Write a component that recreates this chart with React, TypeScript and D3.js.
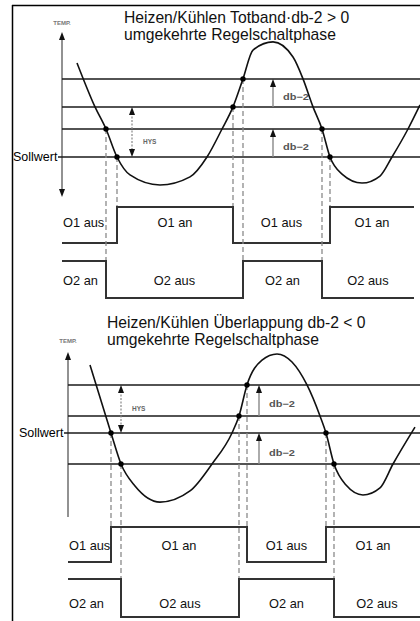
import * as d3 from "d3";
import { useEffect, useRef } from "react";

const width = 420;
const height = 621;

// Panel 1: Heizen/Kühlen Totband, db-2 > 0
const titleLines1 = ["Heizen/Kühlen Totband·db-2 > 0", "umgekehrte Regelschaltphase"];
const hys1 = 1.79;
const db1 = 1.0;
const tempTime1 = [1.5, 3.3, 4.4, 5.5, 6.8, 9.8, 12.8, 14.5, 16.0, 17.1, 18.1, 19.1, 21.1, 23.1, 24.1, 25.1, 26.0, 26.8, 28.0, 30.0, 31.8, 33.0, 34.6, 35.8];
const tempValue1 = [3.36, 1.79, 1.0, 0, -0.64, -1.0, -0.71, 0, 1.0, 1.79, 2.79, 3.82, 4.11, 3.57, 2.79, 1.79, 1.0, 0, -0.61, -0.93, -0.68, 0, 1.0, 1.86];
const o1Switch1 = [5.5, 17.1, 26.8];
const o1Dot1 = [0, 1.79, 0];
const o2Switch1 = [4.4, 18.1, 26.0];
const o2Dot1 = [1.0, 2.79, 1.0];

// Panel 2: Heizen/Kühlen Überlappung, db-2 < 0
const titleLines2 = ["Heizen/Kühlen Überlappung db-2 < 0", "umgekehrte Regelschaltphase"];
const hys2 = 1.55;
const db2 = -1.0;
const tempTime2 = [2.2, 4.3, 5.3, 6.7, 9.2, 12.2, 14.4, 16.4, 17.1, 17.9, 19.4, 20.9, 22.4, 23.9, 25.2, 25.8, 26.6, 27.8, 29.5, 31.2, 32.5, 34.7];
const tempValue2 = [2.19, 0, -1.0, -1.71, -2.23, -1.87, -1.0, 0, 0.55, 1.55, 2.35, 2.55, 2.29, 1.55, 0.55, 0, -1.0, -1.68, -2.0, -1.77, -1.0, 0.19];
const o1Switch2 = [4.3, 17.9, 25.8];
const o1Dot2 = [0, 1.55, 0];
const o2Switch2 = [5.3, 17.1, 26.6];
const o2Dot2 = [-1.0, 0.55, -1.0];

const o1Labels = ["O1 aus", "O1 an", "O1 aus", "O1 an"];
const o2Labels = ["O2 an", "O2 aus", "O2 an", "O2 aus"];
const signalEnd = 35.2;

const font = "'Liberation Sans', Arial, sans-serif";

const panels = [
  {
    title: titleLines1, hys: hys1, db: db1, time: tempTime1, value: tempValue1,
    o1: o1Switch1, o1Dot: o1Dot1, o2: o2Switch1, o2Dot: o2Dot1,
    axisX: 62, yZero: 157, pxPerTemp: 28, tempTop: 4.46, tempBottom: -1.43,
    titleX: 124, titleY: [23, 40], sollX: 13, tempLabelY: 25,
    o1Y: [243, 207, 227], o2Y: [298, 261, 285],
    hysT: 7.0, hysLabelV: 0.55, dbT: 21.1, downArrow: true,
  },
  {
    title: titleLines2, hys: hys2, db: db2, time: tempTime2, value: tempValue2,
    o1: o1Switch2, o1Dot: o1Dot2, o2: o2Switch2, o2Dot: o2Dot2,
    axisX: 68, yZero: 433, pxPerTemp: 31, tempTop: 2.61, tempBottom: -2.71,
    titleX: 107, titleY: [328, 345], sollX: 19, tempLabelY: 343,
    o1Y: [562, 527, 550], o2Y: [617, 579, 608],
    hysT: 5.3, hysLabelV: 0.8, dbT: 19.1, downArrow: false,
  },
];

function head(g, x, y, dir) {
  // small filled triangle, dir = -1 points up, 1 points down
  g.append("path")
    .attr("d", `M${x},${y} L${x - 3},${y - dir * 8} L${x + 3},${y - dir * 8} Z`)
    .attr("fill", "#111");
}

export default function App() {
  const ref = useRef(null);

  useEffect(() => {
    const svg = d3.select(ref.current);
    svg.selectAll("*").remove();

    // frame
    svg.append("line").attr("x1", 12).attr("x2", width).attr("y1", 5.5).attr("y2", 5.5)
      .attr("stroke", "#000").attr("stroke-width", 1.5);
    svg.append("line").attr("x1", 12.5).attr("x2", 12.5).attr("y1", 5).attr("y2", height)
      .attr("stroke", "#000").attr("stroke-width", 1.5);

    panels.forEach((p) => {
      const g = svg.append("g");
      const x = d3.scaleLinear().domain([0, 36]).range([p.axisX, p.axisX + 360]);
      const y = d3.scaleLinear().domain([0, 1]).range([p.yZero, p.yZero - p.pxPerTemp]);

      // title
      p.title.forEach((t, i) => {
        g.append("text").attr("x", p.titleX).attr("y", p.titleY[i])
          .attr("font-family", font).attr("font-size", 15.7).attr("fill", "#111").text(t);
      });

      // temperature axis
      g.append("line").attr("x1", x(0)).attr("x2", x(0))
        .attr("y1", y(p.tempTop) + 4).attr("y2", y(p.tempBottom) - (p.downArrow ? 4 : 0))
        .attr("stroke", "#777").attr("stroke-width", 1.6);
      head(g, x(0), y(p.tempTop), -1);
      if (p.downArrow) head(g, x(0), y(p.tempBottom), 1);
      g.append("text").attr("x", x(0)).attr("y", p.tempLabelY)
        .attr("text-anchor", "middle").attr("font-family", font).attr("font-size", 6)
        .attr("font-weight", "bold").attr("fill", "#777").text("TEMP.");

      // level lines
      const levels = [0, p.db, p.hys, p.hys + p.db];
      levels.forEach((v) => {
        g.append("line").attr("x1", v === 0 ? x(0) - 4 : x(0)).attr("x2", width)
          .attr("y1", y(v)).attr("y2", y(v)).attr("stroke", "#1a1a1a").attr("stroke-width", 1.5);
      });
      g.append("text").attr("x", p.sollX).attr("y", y(0) + 4)
        .attr("font-family", font).attr("font-size", 12.5).attr("fill", "#000").text("Sollwert");

      // dimension arrows
      const hx = x(p.hysT);
      g.append("line").attr("x1", hx).attr("x2", hx).attr("y1", y(p.hys) + 6).attr("y2", y(0) - 6)
        .attr("stroke", "#888").attr("stroke-width", 1.2).attr("stroke-dasharray", "2,1.5");
      head(g, hx, y(p.hys), -1);
      head(g, hx, y(0), 1);
      g.append("text").attr("x", hx + 11).attr("y", y(p.hysLabelV) + 2.5)
        .attr("font-family", font).attr("font-size", 6.5).attr("font-weight", "bold")
        .attr("fill", "#666").text("HYS");

      const dx = x(p.dbT);
      [[0, p.db], [p.hys, p.hys + p.db]].forEach(([a, b]) => {
        const lo = Math.min(a, b), hi = Math.max(a, b);
        g.append("line").attr("x1", dx).attr("x2", dx).attr("y1", y(hi) + 6).attr("y2", y(lo))
          .attr("stroke", "#888").attr("stroke-width", 1.4);
        head(g, dx, y(hi), -1);
        g.append("text").attr("x", dx + 10).attr("y", (y(lo) + y(hi)) / 2 + 7)
          .attr("font-family", font).attr("font-size", 9).attr("font-weight", "bold")
          .attr("fill", "#555").attr("textLength", 26).attr("lengthAdjust", "spacingAndGlyphs")
          .text("db−2");
      });

      // switching outputs
      const outputs = [
        { sw: p.o1, dot: p.o1Dot, start: 0, ys: p.o1Y, labels: o1Labels },
        { sw: p.o2, dot: p.o2Dot, start: 1, ys: p.o2Y, labels: o2Labels },
      ];
      outputs.forEach((o) => {
        const sy = d3.scaleLinear().domain([0, 1]).range([o.ys[0], o.ys[1]]);
        const pts = [[0, o.start]];
        o.sw.forEach((t, i) => pts.push([t, (o.start + i + 1) % 2]));
        pts.push([signalEnd, pts[pts.length - 1][1]]);

        // dashed drop lines from the switching points
        o.sw.forEach((t, i) => {
          g.append("line").attr("x1", x(t)).attr("x2", x(t))
            .attr("y1", y(o.dot[i])).attr("y2", sy(0))
            .attr("stroke", "#8a8a8a").attr("stroke-width", 1.3).attr("stroke-dasharray", "5,3");
        });

        g.append("path")
          .attr("d", d3.line().x((d) => x(d[0])).y((d) => sy(d[1])).curve(d3.curveStepAfter)(pts))
          .attr("fill", "none").attr("stroke", "#333").attr("stroke-width", 2);

        const bounds = [0, ...o.sw, signalEnd];
        o.labels.forEach((lab, i) => {
          const first = i === 0;
          g.append("text")
            .attr("x", first ? x(0) + 1 : (x(bounds[i]) + x(bounds[i + 1])) / 2)
            .attr("y", o.ys[2])
            .attr("text-anchor", first ? "start" : "middle")
            .attr("font-family", font).attr("font-size", 12.8).attr("fill", "#111").text(lab);
        });
      });

      // temperature curve
      const curve = d3.line().x((d) => x(d[0])).y((d) => y(d[1])).curve(d3.curveMonotoneX);
      g.append("path").attr("d", curve(d3.zip(p.time, p.value)))
        .attr("fill", "none").attr("stroke", "#111").attr("stroke-width", 1.6);

      // switching points
      [...d3.zip(p.o1, p.o1Dot), ...d3.zip(p.o2, p.o2Dot)].forEach(([t, v]) => {
        g.append("circle").attr("cx", x(t)).attr("cy", y(v)).attr("r", 2.7).attr("fill", "#000");
      });
    });
  }, []);

  return (
    <svg ref={ref} width={width} height={height}
      style={{ position: "absolute", left: 0, top: 0, background: "#fff" }} />
  );
}
